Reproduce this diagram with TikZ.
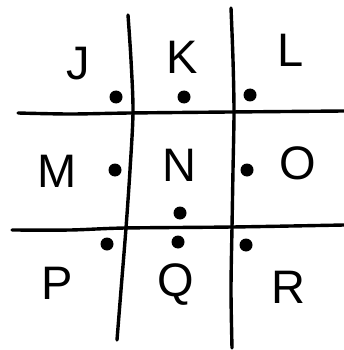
\documentclass[tikz,border=0pt]{standalone}
\usepackage{fontspec}
\setmainfont{Liberation Sans}
\begin{document}
\begin{tikzpicture}[x=1pt,y=-1pt,
  gridline/.style={line width=3.4pt,line cap=round,line join=round},
  letter/.style={inner sep=0pt,font=\fontsize{47}{47}\selectfont},
  dotmark/.style={circle,fill=black,inner sep=0pt,minimum size=13pt}]
\useasboundingbox (0,0) rectangle (344,350);
% grid
\draw[gridline] plot[smooth] coordinates {(128,15) (131,60) (133,112) (130,170) (126,228) (121,290) (117,340)};
\draw[gridline] plot[smooth] coordinates {(231,8) (233,60) (234,112) (233,170) (232,227) (231,290) (232,348)};
\draw[gridline] plot[smooth] coordinates {(18,113) (70,114) (130,113) (230,112) (344,111)};
\draw[gridline] plot[smooth] coordinates {(12,230) (70,230) (125,228) (232,227) (344,225)};
% letters
\node[letter] (J) at (78,64) {J};
\node[letter] (K) at (182,57) {K};
\node[letter] (L) at (291,50) {L};
\node[letter] (M) at (57,171) {M};
\node[letter] (N) at (179,165) {N};
\node[letter] (O) at (298,163) {O};
\node[letter] (P) at (57,283) {P};
\node[letter] (Q) at (176,285) {Q};
\node[letter] (R) at (288,287) {R};
% dots
\node[dotmark] (dJ) at (116,97) {};
\node[dotmark] (dK) at (184,97) {};
\node[dotmark] (dL) at (250,95) {};
\node[dotmark] (dM) at (115,170) {};
\node[dotmark] (dO) at (247,170) {};
\node[dotmark] (dN) at (180,213) {};
\node[dotmark] (dP) at (107,244) {};
\node[dotmark] (dQ) at (178,242) {};
\node[dotmark] (dR) at (246,245) {};
\end{tikzpicture}
\end{document}
